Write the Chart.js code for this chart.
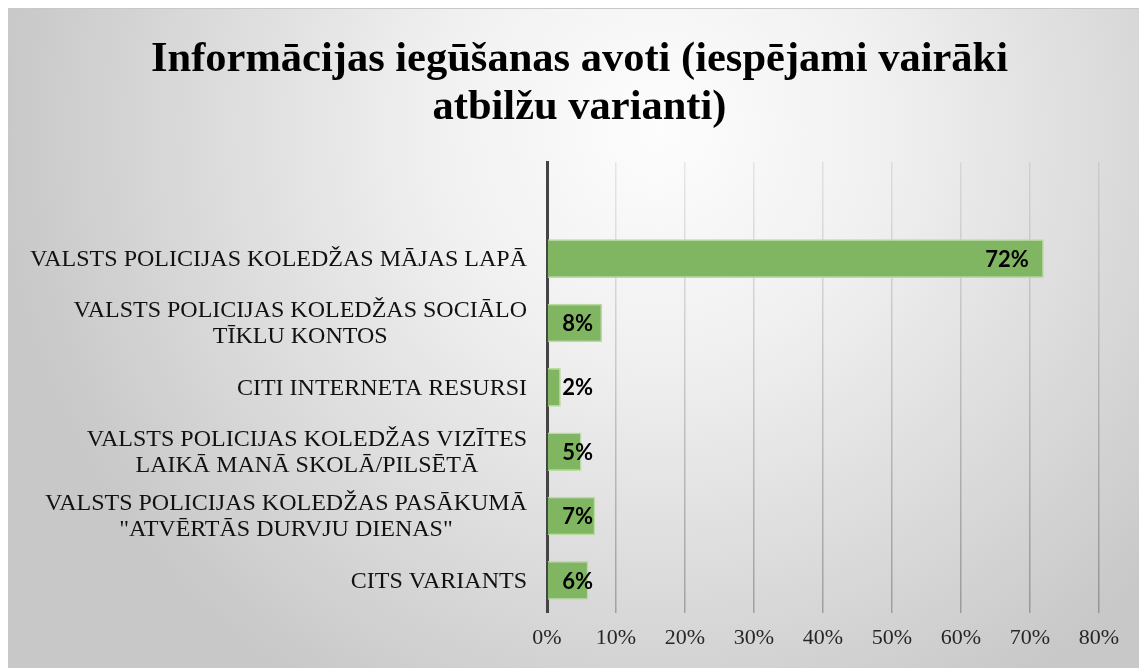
<!DOCTYPE html>
<html>
<head>
<meta charset="utf-8">
<script src="https://cdn.jsdelivr.net/npm/chart.js@4"></script>
<style>
  html, body { margin: 0; padding: 0; background: #ffffff; }
  #wrap {
    position: absolute; left: 8px; top: 8px;
    width: 1131px; height: 660px;
    border-top: 1px solid #c8c8c8; border-left: 1px solid #c8c8c8;
    box-sizing: border-box;
  }
</style>
</head>
<body>
<div id="wrap"><canvas id="barChart"></canvas></div>
<script>
// categories (top to bottom, first one is the blank row Excel left in)
const categories = [
  '',
  ['VALSTS POLICIJAS KOLEDŽAS MĀJAS LAPĀ'],
  ['VALSTS POLICIJAS KOLEDŽAS SOCIĀLO', 'TĪKLU KONTOS'],
  ['CITI INTERNETA RESURSI'],
  ['VALSTS POLICIJAS KOLEDŽAS VIZĪTES', 'LAIKĀ MANĀ SKOLĀ/PILSĒTĀ'],
  ['VALSTS POLICIJAS KOLEDŽAS PASĀKUMĀ', '"ATVĒRTĀS DURVJU DIENAS"'],
  ['CITS VARIANTS']
];
const shares = [null, 72, 8, 2, 5, 7, 6];
const xTicks = [0, 10, 20, 30, 40, 50, 60, 70, 80];

const serif = '"Liberation Serif", "Times New Roman", serif';

// background gradient
const bgPlugin = {
  id: 'bg',
  beforeDraw(chart) {
    const ctx = chart.ctx;
    const w = chart.width, h = chart.height;
    const g = ctx.createRadialGradient(650, 120, 0, 650, 120, 660);
    g.addColorStop(0, '#fdfdfd');
    g.addColorStop(0.35, '#f0f0f0');
    g.addColorStop(1, '#c8c8c8');
    ctx.save();
    ctx.fillStyle = g;
    ctx.fillRect(0, 0, w, h);
    ctx.restore();
  }
};

// gridlines fade lighter toward the top
function gridColor(c) {
  const area = c.chart.chartArea;
  if (!area) return 'rgba(0,0,0,0.16)';
  const g = c.chart.ctx.createLinearGradient(0, area.top, 0, area.bottom);
  g.addColorStop(0, 'rgba(0,0,0,0.08)');
  g.addColorStop(1, 'rgba(0,0,0,0.26)');
  return g;
}

// category labels: block right-aligned, lines centered inside block
const catLabels = {
  id: 'catLabels',
  afterDraw(chart) {
    const ctx = chart.ctx;
    const y = chart.scales.y;
    const right = chart.chartArea.left - 20;
    ctx.save();
    ctx.font = '24px ' + serif;
    ctx.fillStyle = '#111111';
    ctx.textAlign = 'center';
    ctx.textBaseline = 'middle';
    categories.forEach((lab, i) => {
      if (!lab) return;
      const lines = Array.isArray(lab) ? lab : [lab];
      const maxW = Math.max(...lines.map(l => ctx.measureText(l).width));
      const cy = y.getPixelForTick(i);
      const lh = 26;
      lines.forEach((l, k) => {
        ctx.fillText(l, right - maxW / 2, cy + (k - (lines.length - 1) / 2) * lh + 1);
      });
    });
    ctx.restore();
  }
};

// value labels
const valLabels = {
  id: 'valLabels',
  afterDatasetsDraw(chart) {
    const ctx = chart.ctx;
    const meta = chart.getDatasetMeta(0);
    const minRight = chart.chartArea.left + 46;
    ctx.save();
    ctx.font = 'bold 22px Lato, "Open Sans", sans-serif';
    ctx.fillStyle = '#000000';
    ctx.textAlign = 'right';
    ctx.textBaseline = 'middle';
    meta.data.forEach((bar, i) => {
      const v = shares[i];
      if (v == null) return;
      const x = Math.max(bar.x - 15, minRight);
      ctx.fillText(v + '%', x, bar.y + 1);
    });
    ctx.restore();
  }
};

const data = {
  labels: categories,
  datasets: [{
    label: 'Informācijas iegūšanas avoti',
    data: shares,
    backgroundColor: '#80b661',
    borderColor: '#b9dba2',
    borderWidth: 1.5,
    categoryPercentage: 1,
    barPercentage: 0.6
  }]
};

const config = {
  type: 'bar',
  data: data,
  options: {
    indexAxis: 'y',
    responsive: true,
    maintainAspectRatio: false,
    animation: false,
    layout: { padding: { left: 51, right: 40, top: 0, bottom: 5 } },
    plugins: {
      legend: { display: false },
      tooltip: { enabled: false },
      title: {
        display: true,
        text: ['Informācijas iegūšanas avoti (iespējami vairāki', 'atbilžu varianti)'],
        color: '#000000',
        font: { family: serif, size: 42.5, weight: 'bold', lineHeight: 1.13 },
        padding: { top: 27, bottom: 30 }
      }
    },
    scales: {
      x: {
        min: 0,
        max: 80,
        afterBuildTicks(scale) {
          scale.ticks = xTicks.map(v => ({ value: v }));
        },
        grid: { color: gridColor, lineWidth: 1.5, drawTicks: false },
        border: { display: false },
        ticks: {
          padding: 12,
          color: '#262626',
          font: { family: serif, size: 22 },
          callback: v => v + '%'
        }
      },
      y: {
        grid: { display: false },
        border: { display: true, color: '#444444', width: 3 },
        ticks: { display: false },
        afterFit(scale) { scale.width = 487; }
      }
    }
  },
  plugins: [bgPlugin, catLabels, valLabels]
};

var myChart = new Chart(document.getElementById('barChart'), config);
</script>
</body>
</html>
